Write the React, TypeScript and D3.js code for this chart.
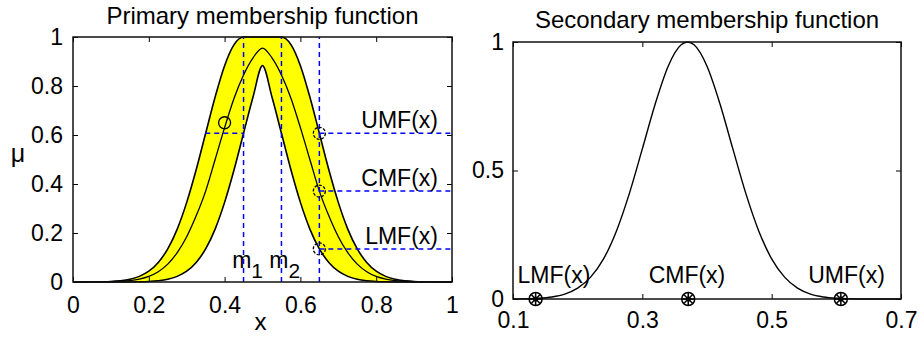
import React, { useEffect, useRef } from "react";
import * as d3 from "d3";

// primary membership function (interval type-2 gaussian, uncertain mean)
const primaryX = [
  0, 0.025, 0.05, 0.075, 0.1, 0.125, 0.15, 0.175, 0.2, 0.225, 0.25, 0.275, 0.3, 0.325,
  0.35, 0.375, 0.4, 0.425, 0.45, 0.475, 0.5, 0.525, 0.55, 0.575, 0.6, 0.625, 0.65, 0.675,
  0.7, 0.725, 0.75, 0.775, 0.8, 0.825, 0.85, 0.875, 0.9, 0.925, 0.95, 0.975, 1,
];
const umf = [
  0, 0.0001, 0.0003, 0.0009, 0.0022, 0.0051, 0.011, 0.023, 0.044, 0.08, 0.135, 0.216, 0.325,
  0.458, 0.607, 0.755, 0.883, 0.969, 1, 1, 1, 1, 1, 0.969, 0.883, 0.755, 0.607, 0.458, 0.325,
  0.216, 0.135, 0.08, 0.044, 0.023, 0.011, 0.0051, 0.0022, 0.0009, 0.0003, 0.0001, 0,
];
const cmf = [
  0, 0, 0.0002, 0.0005, 0.001, 0.003, 0.006, 0.012, 0.023, 0.042, 0.073, 0.12, 0.185, 0.27,
  0.371, 0.5, 0.63, 0.75, 0.845, 0.915, 0.955, 0.915, 0.845, 0.75, 0.63, 0.5, 0.371, 0.27,
  0.185, 0.12, 0.073, 0.042, 0.023, 0.012, 0.006, 0.003, 0.001, 0.0005, 0.0002, 0, 0,
];
const lmf = [
  0, 0, 0, 0, 0, 0.0001, 0.0003, 0.0009, 0.0022, 0.0051, 0.011, 0.023, 0.044, 0.08, 0.135,
  0.216, 0.325, 0.458, 0.607, 0.755, 0.883, 0.755, 0.607, 0.458, 0.325, 0.216, 0.135, 0.08,
  0.044, 0.023, 0.011, 0.0051, 0.0022, 0.0009, 0.0003, 0.0001, 0, 0, 0, 0, 0,
];
const primaryTicks = [0, 0.2, 0.4, 0.6, 0.8, 1];
const means = [0.45, 0.55]; // m1, m2
const meanLabels = ["1", "2"];
const meanLabelX = [0.42, 0.518];
const probeX = 0.65;
const probeValues = [0.607, 0.371, 0.135];
const probeLabels = ["UMF(x)", "CMF(x)", "LMF(x)"];
const leftMarker = [0.4, 0.65];
const leftGuide = [0.349, 0.45, 0.607]; // x from, x to, level

// secondary membership function at x = 0.65
const secondaryX = [
  0.1, 0.12, 0.14, 0.16, 0.18, 0.2, 0.22, 0.24, 0.26, 0.28, 0.3, 0.32, 0.34, 0.36, 0.37,
  0.38, 0.4, 0.42, 0.44, 0.46, 0.48, 0.5, 0.52, 0.54, 0.56, 0.58, 0.6, 0.62, 0.64, 0.66,
  0.68, 0.7,
];
const secondaryMu = [
  0, 0.001, 0.003, 0.008, 0.019, 0.042, 0.085, 0.156, 0.265, 0.411, 0.584, 0.76, 0.906,
  0.989, 1, 0.989, 0.906, 0.76, 0.584, 0.411, 0.265, 0.156, 0.085, 0.042, 0.019, 0.008,
  0.003, 0.001, 0, 0, 0, 0,
];
const secondaryTicksX = [0.1, 0.3, 0.5, 0.7];
const secondaryTicksY = [0, 0.5, 1];
const secondaryMarkers = [0.135, 0.371, 0.607];
const secondaryLabels = ["LMF(x)", "CMF(x)", "UMF(x)"];

const FONT = "'Liberation Sans', Arial, Helvetica, sans-serif";
const BLUE = "#0000ff";

export default function App() {
  const svgRef = useRef<SVGSVGElement>(null);

  useEffect(() => {
    const svg = d3.select(svgRef.current);
    svg.selectAll("*").remove();
    svg.attr("font-family", FONT);

    const fmt = (d: any) => String(d);

    // frame with inward ticks on all four sides, matlab style
    const frame = (g: any, x: any, y: any, xt: number[], yt: number[], padX: number, padY: number) => {
      const [x0, x1] = x.range();
      const [y0, y1] = y.range();
      g.append("g")
        .attr("transform", `translate(0,${y0})`)
        .call(d3.axisBottom(x).tickValues(xt).tickSizeInner(-5).tickSizeOuter(0).tickPadding(padX).tickFormat(fmt))
        .call((a: any) => {
          a.select(".domain").remove();
          a.selectAll(".tick text").attr("font-size", 23).attr("font-family", FONT).attr("fill", "#000");
        });
      g.append("g")
        .attr("transform", `translate(0,${y1})`)
        .call(d3.axisTop(x).tickValues(xt).tickSizeInner(-5).tickSizeOuter(0).tickFormat(() => ""))
        .call((a: any) => a.select(".domain").remove());
      g.append("g")
        .attr("transform", `translate(${x0},0)`)
        .call(d3.axisLeft(y).tickValues(yt).tickSizeInner(-5).tickSizeOuter(0).tickPadding(padY).tickFormat(fmt))
        .call((a: any) => {
          a.select(".domain").remove();
          a.selectAll(".tick text").attr("font-size", 23).attr("font-family", FONT).attr("fill", "#000");
        });
      g.append("g")
        .attr("transform", `translate(${x1},0)`)
        .call(d3.axisRight(y).tickValues(yt).tickSizeInner(-5).tickSizeOuter(0).tickFormat(() => ""))
        .call((a: any) => a.select(".domain").remove());
      g.selectAll(".tick line").attr("stroke", "#000");
      g.append("rect")
        .attr("x", x0)
        .attr("y", y1)
        .attr("width", x1 - x0)
        .attr("height", y0 - y1)
        .attr("fill", "none")
        .attr("stroke", "#111")
        .attr("stroke-width", 1.5);
    };

    // ---------- left: primary membership function ----------
    const x = d3.scaleLinear().domain([0, 1]).range([73, 452]);
    const y = d3.scaleLinear().domain([0, 1]).range([282, 37]);
    const left = svg.append("g");

    const band = d3
      .area<number>()
      .x((_, i) => x(primaryX[i]))
      .y0((_, i) => y(lmf[i]))
      .y1((_, i) => y(umf[i]))
      .curve(d3.curveMonotoneX);
    left
      .append("path")
      .datum(umf)
      .attr("d", band)
      .attr("fill", "#ffff00")
      .attr("stroke", "#000")
      .attr("stroke-width", 1.6);

    const mid = d3
      .line<number>()
      .x((_, i) => x(primaryX[i]))
      .y((d) => y(d))
      .curve(d3.curveMonotoneX);
    left
      .append("path")
      .datum(cmf)
      .attr("d", mid)
      .attr("fill", "none")
      .attr("stroke", "#000")
      .attr("stroke-width", 1.3);

    const dashed = left
      .append("g")
      .attr("stroke", BLUE)
      .attr("stroke-width", 1.5)
      .attr("stroke-dasharray", "5,4")
      .attr("fill", "none");
    [...means, probeX].forEach((m) => {
      dashed.append("line").attr("x1", x(m)).attr("x2", x(m)).attr("y1", y(0)).attr("y2", y(1));
    });
    probeValues.forEach((v) => {
      dashed.append("line").attr("x1", x(probeX)).attr("x2", x(1)).attr("y1", y(v)).attr("y2", y(v));
    });
    dashed
      .append("line")
      .attr("x1", x(leftGuide[0]))
      .attr("x2", x(leftGuide[1]))
      .attr("y1", y(leftGuide[2]))
      .attr("y2", y(leftGuide[2]));

    left
      .append("circle")
      .attr("cx", x(leftMarker[0]))
      .attr("cy", y(leftMarker[1]))
      .attr("r", 6)
      .attr("fill", "none")
      .attr("stroke", "#000")
      .attr("stroke-width", 1.3);
    probeValues.forEach((v) => {
      left
        .append("circle")
        .attr("cx", x(probeX))
        .attr("cy", y(v))
        .attr("r", 6)
        .attr("fill", "none")
        .attr("stroke", "#000")
        .attr("stroke-width", 1.3)
        .attr("stroke-dasharray", "3,1.5");
    });

    probeLabels.forEach((t, i) => {
      left
        .append("text")
        .attr("x", x(0.963))
        .attr("y", y(probeValues[i]) - 5)
        .attr("text-anchor", "end")
        .attr("font-size", 23)
        .text(t);
    });

    meanLabels.forEach((s, i) => {
      const t = left
        .append("text")
        .attr("x", x(meanLabelX[i]))
        .attr("y", y(0.057))
        .attr("font-size", 23);
      t.append("tspan").text("m");
      t.append("tspan").attr("dy", 10).attr("font-size", 21).text(s);
    });

    frame(left, x, y, primaryTicks, primaryTicks, 15, 10);

    left
      .append("text")
      .attr("x", (x(0) + x(1)) / 2)
      .attr("y", 24)
      .attr("text-anchor", "middle")
      .attr("font-size", 24)
      .text("Primary membership function");
    left
      .append("text")
      .attr("x", (x(0) + x(1)) / 2 - 2)
      .attr("y", 330)
      .attr("text-anchor", "middle")
      .attr("font-size", 24)
      .text("x");
    left
      .append("text")
      .attr("x", 18)
      .attr("y", 162)
      .attr("text-anchor", "middle")
      .attr("font-size", 25)
      .text("μ");

    // ---------- right: secondary membership function ----------
    const x2 = d3.scaleLinear().domain([0.1, 0.7]).range([513, 901]);
    const y2 = d3.scaleLinear().domain([0, 1]).range([299, 42]);
    const right = svg.append("g");

    const curve = d3
      .line<number>()
      .x((_, i) => x2(secondaryX[i]))
      .y((d) => y2(d))
      .curve(d3.curveMonotoneX);
    right
      .append("path")
      .datum(secondaryMu)
      .attr("d", curve)
      .attr("fill", "none")
      .attr("stroke", "#000")
      .attr("stroke-width", 1.4);

    frame(right, x2, y2, secondaryTicksX, secondaryTicksY, 13, 9);

    secondaryMarkers.forEach((m) => {
      const g = right
        .append("g")
        .attr("transform", `translate(${x2(m)},${y2(0)})`)
        .attr("stroke", "#000")
        .attr("stroke-width", 1.5)
        .attr("fill", "none");
      g.append("circle").attr("r", 6.5);
      [0, 45, 90, 135].forEach((a) => {
        const r = (a * Math.PI) / 180;
        g.append("line")
          .attr("x1", -6 * Math.cos(r))
          .attr("y1", -6 * Math.sin(r))
          .attr("x2", 6 * Math.cos(r))
          .attr("y2", 6 * Math.sin(r));
      });
      g.append("circle").attr("r", 1.8).attr("fill", "#000");
    });

    const labelPos = [0.107, 0.369, 0.675];
    const anchors = ["start", "middle", "end"];
    secondaryLabels.forEach((t, i) => {
      right
        .append("text")
        .attr("x", x2(labelPos[i]))
        .attr("y", y2(0) - 16)
        .attr("text-anchor", anchors[i])
        .attr("font-size", 23)
        .text(t);
    });

    right
      .append("text")
      .attr("x", (x2(0.1) + x2(0.7)) / 2)
      .attr("y", 28)
      .attr("text-anchor", "middle")
      .attr("font-size", 24)
      .text("Secondary membership function");
  }, []);

  return (
    <svg
      ref={svgRef}
      width={919}
      height={337}
      viewBox="0 0 919 337"
      style={{ position: "absolute", left: 0, top: 0, background: "#fff" }}
    />
  );
}
